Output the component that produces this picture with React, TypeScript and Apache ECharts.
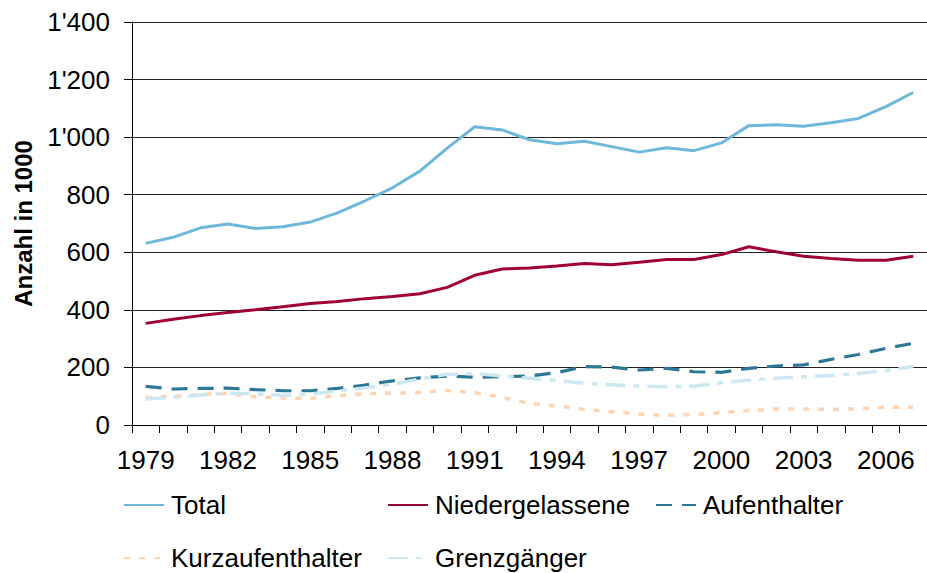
import React, { useEffect, useRef } from "react";
import * as echarts from "echarts";

const years = Array.from({ length: 29 }, (_, i) => String(1979 + i));
const total = [631, 652, 685, 698, 683, 689, 705, 737, 779, 824, 882, 962, 1036, 1025, 991, 977, 986, 967, 948, 963, 953, 980, 1040, 1043, 1038, 1050, 1065, 1106, 1155];
const niedergelassene = [353, 367, 380, 391, 400, 411, 422, 429, 439, 446, 456, 478, 520, 542, 545, 552, 561, 557, 565, 575, 575, 592, 619, 602, 586, 578, 572, 572, 586];
const aufenthalter = [134, 125, 127, 128, 123, 119, 119, 127, 139, 153, 164, 170, 166, 168, 170, 182, 203, 201, 191, 197, 185, 183, 197, 205, 209, 228, 245, 266, 284];
const kurzaufenthalter = [95, 100, 106, 110, 98, 94, 92, 102, 108, 111, 113, 120, 112, 96, 75, 66, 54, 46, 38, 34, 37, 43, 50, 56, 56, 54, 56, 62, 62];
const grenzgaenger = [90, 96, 104, 111, 108, 103, 107, 118, 129, 141, 160, 176, 179, 170, 162, 154, 145, 140, 135, 133, 135, 147, 156, 162, 168, 172, 179, 189, 203];

const FONT = "'Liberation Sans', Arial, sans-serif";

export default function App() {
  const ref = useRef<HTMLDivElement>(null);
  useEffect(() => {
    if (!ref.current) return;
    const chart = echarts.init(ref.current, null, { renderer: "svg" });
    const mk = (name: string, data: number[], color: string, type: any, width: number) => ({
      name,
      type: "line",
      data,
      symbol: "none",
      showSymbol: false,
      lineStyle: { color, type, width },
      itemStyle: { color },
      z: 2,
    });
    const legendBase = {
      itemWidth: 40,
      itemHeight: 14,
      padding: 0,
      itemStyle: { opacity: 0 },
      textStyle: { fontSize: 26, color: "#000", fontFamily: FONT, padding: [0, 0, 0, 2] },
      selectedMode: false,
    };
    chart.setOption({
      animation: false,
      textStyle: { fontFamily: FONT },
      grid: { left: 132, top: 22, width: 807, height: 403, containLabel: false },
      legend: [
        { ...legendBase, left: 123, top: 492, data: ["Total"] },
        { ...legendBase, left: 387, top: 492, data: ["Niedergelassene"] },
        { ...legendBase, left: 655, top: 492, data: ["Aufenthalter"] },
        { ...legendBase, left: 123, top: 545, data: ["Kurzaufenthalter"] },
        { ...legendBase, left: 387, top: 545, data: ["Grenzgänger"] },
      ],
      xAxis: {
        type: "category",
        data: years,
        boundaryGap: true,
        axisLine: { lineStyle: { color: "#000", width: 1 } },
        axisTick: { show: true, interval: 0, length: 8, lineStyle: { color: "#000" } },
        axisLabel: { interval: 2, fontSize: 26, color: "#000", margin: 22, fontFamily: FONT },
        splitLine: { show: false },
      },
      yAxis: {
        type: "value",
        min: 0,
        max: 1400,
        interval: 200,
        name: "Anzahl in 1000",
        nameLocation: "middle",
        nameRotate: 90,
        nameGap: 97,
        nameTextStyle: { fontSize: 24, fontWeight: "bold", color: "#000", fontFamily: FONT },
        axisLine: { show: true, lineStyle: { color: "#000", width: 1 } },
        axisTick: { show: true, length: 8, lineStyle: { color: "#000" } },
        axisLabel: {
          fontSize: 26,
          color: "#000",
          margin: 22,
          fontFamily: FONT,
          formatter: (v: number) => String(v).replace(/\B(?=(\d{3})+(?!\d))/g, "'"),
        },
        splitLine: { show: true, lineStyle: { color: "#222", width: 1 } },
      },
      series: [
        mk("Total", total, "#6FB8DB", "solid", 3),
        mk("Niedergelassene", niedergelassene, "#A0003A", "solid", 3),
        mk("Aufenthalter", aufenthalter, "#2D7896", [16, 10], 3.2),
        mk("Kurzaufenthalter", kurzaufenthalter, "#FFD4B0", [6, 9], 3.5),
        mk("Grenzgänger", grenzgaenger, "#CDE8F3", [20, 8, 6, 8], 3.5),
      ],
    });
    return () => chart.dispose();
  }, []);
  return (
    <div
      ref={ref}
      style={{ position: "fixed", left: 0, top: 0, width: 927, height: 573, background: "#fff" }}
    />
  );
}
